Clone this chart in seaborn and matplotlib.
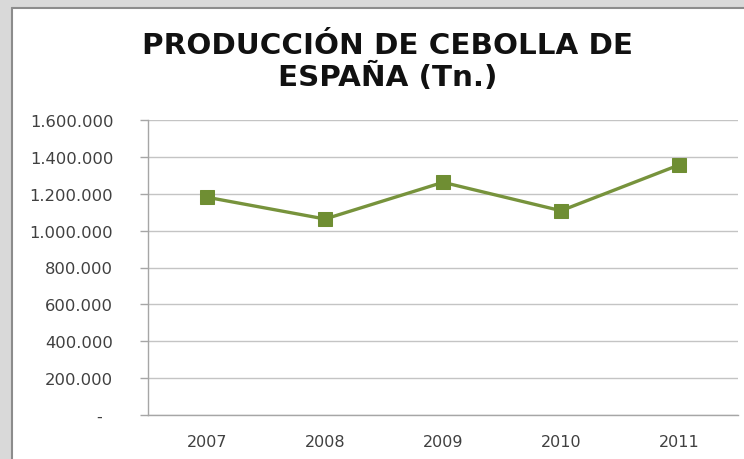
import matplotlib
matplotlib.use("Agg")
import matplotlib.pyplot as plt
from matplotlib.lines import Line2D
from matplotlib.patches import Rectangle
import seaborn as sns
import pandas as pd

years = ["2007", "2008", "2009", "2010", "2011"]
production = [1181000, 1063000, 1262000, 1108000, 1356000]
y_ticks = [0, 200000, 400000, 600000, 800000, 1000000, 1200000, 1400000, 1600000]
y_tick_labels = ["-  ", "200.000", "400.000", "600.000", "800.000",
                 "1.000.000", "1.200.000", "1.400.000", "1.600.000"]
title = "PRODUCCIÓN DE CEBOLLA DE\nESPAÑA (Tn.)"

sns.set_theme(style="white")
plt.rcParams['font.family'] = ['DejaVu Sans']

W, H = 744, 460
fig = plt.figure(figsize=(W / 100, H / 100), dpi=100)
fig.patch.set_facecolor("#d9d9d9")

# white chart area with dark edges on left and top
fig.add_artist(Rectangle((12 / W, 0), 1, 1 - 9 / H, transform=fig.transFigure,
                         facecolor="white", edgecolor="none", zorder=0))
fig.add_artist(Line2D([11.5 / W, 11.5 / W], [0, 1 - 8.5 / H], transform=fig.transFigure,
                      color="#8c8c8c", lw=1.5, zorder=1))
fig.add_artist(Line2D([11.5 / W, 1], [1 - 8.5 / H, 1 - 8.5 / H], transform=fig.transFigure,
                      color="#8c8c8c", lw=1.5, zorder=1))

left, right = 148 / W, 738 / W
bottom, top = (H - 416) / H, (H - 121) / H
ax = fig.add_axes([left, bottom, right - left, top - bottom])
ax.set_facecolor("none")

df = pd.DataFrame({"year": years, "value": production})
green = "#77933C"
sns.lineplot(data=df, x="year", y="value", ax=ax, color=green, lw=2.4,
             marker="s", markersize=10.5, markerfacecolor="#6f8e33",
             markeredgecolor="#6f8e33", sort=False)

ax.set_xlim(-0.5, len(years) - 0.5)
ax.set_ylim(0, 1600000)
ax.set_yticks(y_ticks)
ax.set_yticklabels(y_tick_labels)
ax.yaxis.grid(True, color="#c4c4c4", lw=1)
ax.xaxis.grid(False)
ax.set_xlabel("")
ax.set_ylabel("")

ax.set_xticks(range(len(years)))
ax.set_xticklabels(years)
ax.set_xticks([i - 0.5 for i in range(len(years) + 1)], minor=True)
ax.tick_params(axis="x", which="major", length=0, pad=14, labelsize=11.5, labelcolor="#404040")
ax.tick_params(axis="x", which="minor", length=6, width=1, color="#a6a6a6", direction="out")
ax.tick_params(axis="y", which="major", length=6, width=1, color="#a6a6a6", direction="out",
               pad=19, labelsize=11.8, labelcolor="#404040", left=True)

for s in ["top", "right"]:
    ax.spines[s].set_visible(False)
for s in ["left", "bottom"]:
    ax.spines[s].set_color("#a6a6a6")
    ax.spines[s].set_linewidth(1)

fig.text(387.5 / W, (H - 62) / H, title, ha="center", va="center",
         multialignment="center", fontsize=21.2, fontweight="bold", color="#111111",
         linespacing=1.1)

fig.savefig("out.png", dpi=100, facecolor=fig.get_facecolor())
